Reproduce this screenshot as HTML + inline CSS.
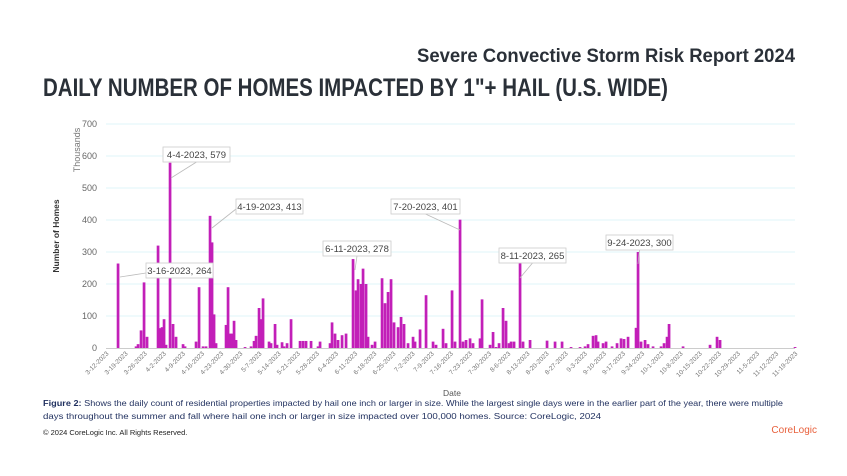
<!DOCTYPE html>
<html><head><meta charset="utf-8"><style>
body{margin:0;background:#fff;width:847px;height:476px;overflow:hidden}
svg{display:block;font-family:"Liberation Sans",sans-serif}
</style></head><body>
<svg id="s" width="847" height="476" viewBox="0 0 847 476">
<text x="795" y="62" text-anchor="end" font-size="19" font-weight="bold" fill="#2a3038" textLength="378" lengthAdjust="spacingAndGlyphs">Severe Convective Storm Risk Report 2024</text>
<text x="43" y="96" font-size="25" font-weight="bold" fill="#2a3038" textLength="625" lengthAdjust="spacingAndGlyphs">DAILY NUMBER OF HOMES IMPACTED BY 1"+ HAIL (U.S. WIDE)</text>
<g id="grid"></g>
<g id="bars" fill="#c21fb8"></g>
<g id="ann" font-size="9.5" fill="#444"></g>
<text transform="translate(80,150) rotate(-90)" text-anchor="middle" font-size="9" fill="#777">Thousands</text>
<text transform="translate(59,236) rotate(-90)" text-anchor="middle" font-size="8.5" font-weight="bold" fill="#333">Number of Homes</text>
<text x="452" y="396" text-anchor="middle" font-size="8.5" fill="#555">Date</text>
<text x="43" y="406" font-size="8.6" fill="#1f2f5e" textLength="740" lengthAdjust="spacingAndGlyphs"><tspan font-weight="bold">Figure 2:</tspan> Shows the daily count of residential properties impacted by hail one inch or larger in size. While the largest single days were in the earlier part of the year, there were multiple</text>
<text x="43" y="419" font-size="8.6" fill="#1f2f5e" textLength="558" lengthAdjust="spacingAndGlyphs">days throughout the summer and fall where hail one inch or larger in size impacted over 100,000 homes. Source: CoreLogic, 2024</text>
<text x="43" y="435" font-size="7.5" fill="#222">© 2024 CoreLogic Inc. All Rights Reserved.</text>
<text x="817" y="433" text-anchor="end" font-size="10" fill="#e8603c">CoreLogic</text>
</svg>
<script>
var NS="http://www.w3.org/2000/svg",g=document.getElementById('grid'),b=document.getElementById('bars'),a=document.getElementById('ann');
function el(p,t,at,tx){var e=document.createElementNS(NS,t);for(var k in at)e.setAttribute(k,at[k]);if(tx)e.textContent=tx;p.appendChild(e);return e;}
function Y(v){return 348-v*0.32;}
for(var v=0;v<=700;v+=100){var y=Y(v);if(v>0)el(g,'line',{x1:106,x2:795,y1:y,y2:y,stroke:'#dff6f8','stroke-width':1});
el(g,'text',{x:97,y:y+3,'text-anchor':'end','font-size':9,fill:'#666'},''+v);}
el(g,'line',{x1:106,x2:795,y1:348.5,y2:348.5,stroke:'#ccc','stroke-width':1});
var labs=['3-12-2023','3-19-2023','3-26-2023','4-2-2023','4-9-2023','4-16-2023','4-23-2023','4-30-2023','5-7-2023','5-14-2023','5-21-2023','5-28-2023','6-4-2023','6-11-2023','6-18-2023','6-25-2023','7-2-2023','7-9-2023','7-16-2023','7-23-2023','7-30-2023','8-6-2023','8-13-2023','8-20-2023','8-27-2023','9-3-2023','9-10-2023','9-17-2023','9-24-2023','10-1-2023','10-8-2023','10-15-2023','10-22-2023','10-29-2023','11-5-2023','11-12-2023','11-19-2023'];
labs.forEach(function(l,i){var x=106+i*7*2.734+3;el(g,'text',{transform:'translate('+x+',354) rotate(-45)','text-anchor':'end','font-size':6.5,fill:'#777'},l);});
var d=[[118,264],[136,5],[138,12],[141,55],[144,205],[147,35],[158,320],[160,62],[162,65],[164,90],[166,10],[170,579],[173,75],[176,35],[183,12],[185,5],[196,20],[199,190],[203,5],[206,5],[210,413],[212,330],[214,105],[216,15],[226,72],[228,190],[230,45],[232,45],[234,85],[236,25],[245,3],[251,5],[254,22],[256,38],[259,125],[261,90],[263,155],[269,20],[271,15],[275,75],[277,10],[282,18],[284,5],[287,15],[291,90],[300,22],[303,22],[306,22],[311,22],[318,5],[320,20],[330,15],[332,80],[335,45],[338,25],[342,40],[346,45],[353,278],[356,180],[358,215],[361,200],[363,248],[366,200],[368,35],[372,10],[375,20],[382,218],[385,140],[388,175],[391,215],[394,80],[398,65],[401,97],[404,75],[408,15],[413,35],[415,20],[420,58],[426,165],[433,20],[436,10],[443,60],[446,15],[452,180],[455,20],[460,401],[463,20],[466,25],[470,30],[473,15],[480,30],[482,152],[490,10],[493,50],[496,3],[499,15],[503,125],[506,85],[509,15],[511,20],[514,20],[520,265],[523,20],[530,25],[547,23],[555,20],[562,20],[571,3],[580,3],[585,5],[588,12],[593,38],[596,40],[598,20],[603,15],[606,20],[612,5],[617,15],[621,30],[624,28],[628,35],[636,63],[638,300],[641,20],[645,25],[648,12],[653,5],[661,5],[664,15],[667,35],[669,75],[683,5],[710,10],[717,35],[720,25],[795,3]];
d.forEach(function(p){var y=Y(p[1]);el(b,'rect',{x:p[0]-1.3,y:y,width:2.7,height:348-y});});
[['3-16-2023,  264',146,263,67,120,277],['4-4-2023,  579',163,147,67,171,178],['4-19-2023,  413',236,199,67,212,228],['6-11-2023,  278',323,241,68,355,270],['7-20-2023,  401',391,199,69,460,230],['8-11-2023,  265',499,248,67,520,278],['9-24-2023,  300',606,235,67,638,264]].forEach(function(q){
var cx=q[1]+q[3]/2,by=q[2]+15;
el(a,'line',{x1:q[4],y1:q[5],x2:(q[4]<q[1]?q[1]:(q[4]>q[1]+q[3]?q[1]+q[3]:cx)),y2:(q[4]<q[1]||q[4]>q[1]+q[3])?q[2]+10:by,stroke:'#bbb','stroke-width':0.8});
el(a,'rect',{x:q[1],y:q[2],width:q[3],height:15,fill:'#fff',stroke:'#ccc','stroke-width':0.8});
el(a,'text',{x:cx,y:q[2]+11,'text-anchor':'middle'},q[0]);});
</script>
</body></html>
